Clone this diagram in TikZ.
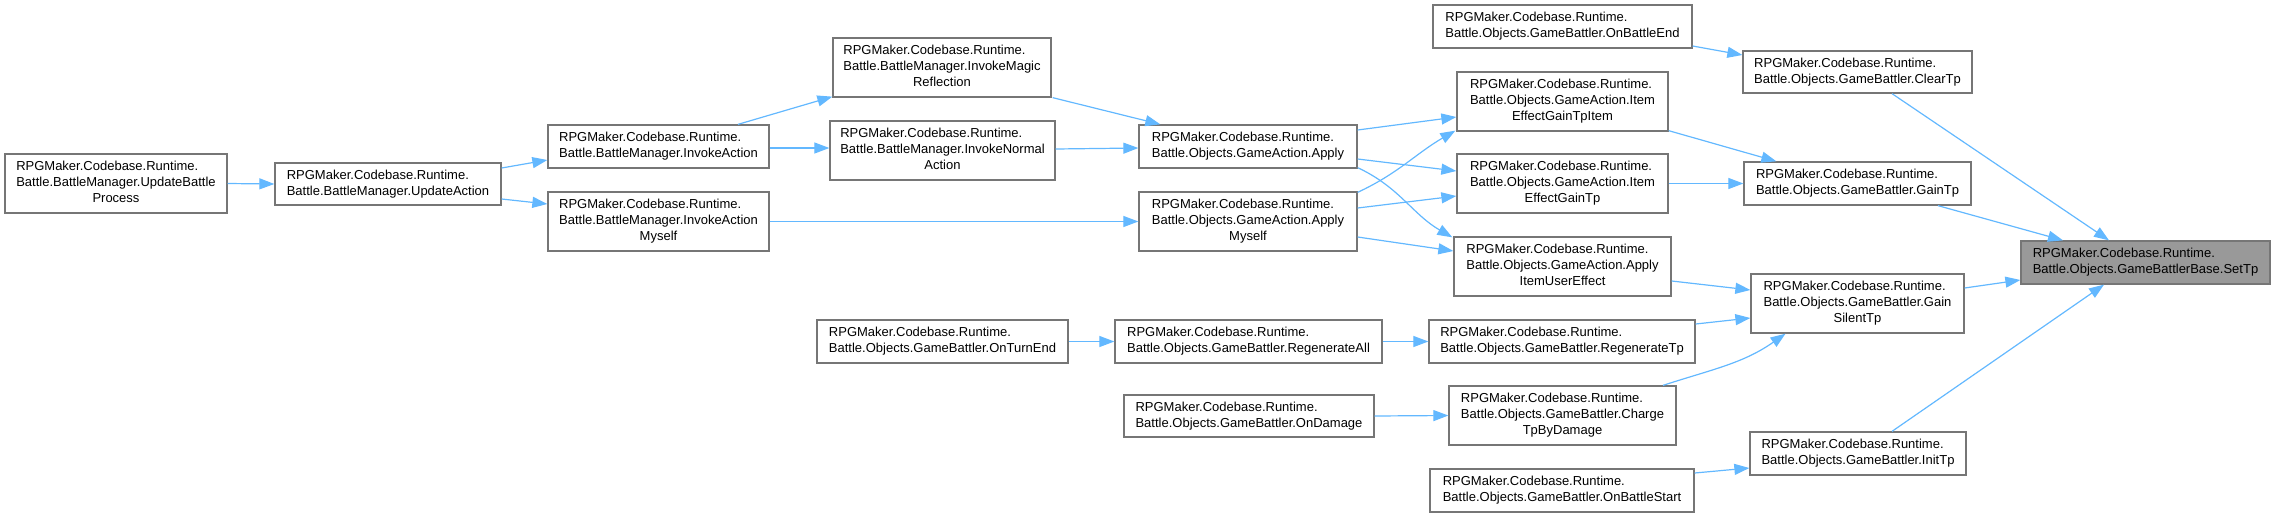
\documentclass[tikz,border=0pt]{standalone}
\usepackage{fontspec}
\setmainfont{Liberation Sans}
\usetikzlibrary{arrows.meta}
\definecolor{edgeblue}{HTML}{63B8FF}
\definecolor{boxgray}{HTML}{767676}
\definecolor{rootgray}{HTML}{999999}
\newcommand{\twol}[2]{\begin{tabular}{@{}l@{}}#1\\#2\end{tabular}}
\newcommand{\threel}[3]{\begin{tabular}{@{}l@{}}#1\\#2\\\multicolumn{1}{@{}c@{}}{#3}\end{tabular}}
\tikzset{
  fn/.style={draw=boxgray, line width=1.3pt, fill=white, rectangle, inner sep=0pt,
    font=\fontsize{13}{16}\selectfont, text=black, anchor=center},
  root/.style={fn, fill=rootgray},
  call/.style={draw=edgeblue, line width=1.2pt, -{Triangle[length=15pt,width=11pt,fill=edgeblue]}}
}
\begin{document}
\begin{tikzpicture}[x=1pt,y=-1pt]
\useasboundingbox (0,0) rectangle (2275,517);
% column 0
\node[fn, minimum width=222pt, minimum height=59pt] (ubp) at (116,183.5)
  {\threel{RPGMaker.Codebase.Runtime.}{Battle.BattleManager.UpdateBattle}{Process}};
% column 1
\node[fn, minimum width=226pt, minimum height=42pt] (ua) at (388,184)
  {\twol{RPGMaker.Codebase.Runtime.}{Battle.BattleManager.UpdateAction}};
% column 2
\node[fn, minimum width=221pt, minimum height=43pt] (ia) at (658.5,146.5)
  {\twol{RPGMaker.Codebase.Runtime.}{Battle.BattleManager.InvokeAction}};
\node[fn, minimum width=221pt, minimum height=59pt] (iam) at (658.5,221.5)
  {\threel{RPGMaker.Codebase.Runtime.}{Battle.BattleManager.InvokeAction}{Myself}};
% column 3
\node[fn, minimum width=218pt, minimum height=59pt] (imr) at (942,67.5)
  {\threel{RPGMaker.Codebase.Runtime.}{Battle.BattleManager.InvokeMagic}{Reflection}};
\node[fn, minimum width=225pt, minimum height=59pt] (ina) at (942.5,150.5)
  {\threel{RPGMaker.Codebase.Runtime.}{Battle.BattleManager.InvokeNormal}{Action}};
\node[fn, minimum width=251pt, minimum height=43pt] (ote) at (942.5,341.5)
  {\twol{RPGMaker.Codebase.Runtime.}{Battle.Objects.GameBattler.OnTurnEnd}};
% column 4
\node[fn, minimum width=218pt, minimum height=43pt] (ap) at (1248,146.5)
  {\twol{RPGMaker.Codebase.Runtime.}{Battle.Objects.GameAction.Apply}};
\node[fn, minimum width=218pt, minimum height=59pt] (apm) at (1248,221.5)
  {\threel{RPGMaker.Codebase.Runtime.}{Battle.Objects.GameAction.Apply}{Myself}};
\node[fn, minimum width=267pt, minimum height=43pt] (ra) at (1248.5,341.5)
  {\twol{RPGMaker.Codebase.Runtime.}{Battle.Objects.GameBattler.RegenerateAll}};
\node[fn, minimum width=250pt, minimum height=42pt] (od) at (1249,416)
  {\twol{RPGMaker.Codebase.Runtime.}{Battle.Objects.GameBattler.OnDamage}};
% column 5
\node[fn, minimum width=259pt, minimum height=43pt] (obe) at (1562.5,26.5)
  {\twol{RPGMaker.Codebase.Runtime.}{Battle.Objects.GameBattler.OnBattleEnd}};
\node[fn, minimum width=211pt, minimum height=59pt] (egti) at (1562.5,101.5)
  {\threel{RPGMaker.Codebase.Runtime.}{Battle.Objects.GameAction.Item}{EffectGainTpItem}};
\node[fn, minimum width=211pt, minimum height=59pt] (egt) at (1562.5,183.5)
  {\threel{RPGMaker.Codebase.Runtime.}{Battle.Objects.GameAction.Item}{EffectGainTp}};
\node[fn, minimum width=217pt, minimum height=59pt] (aiue) at (1562.5,266.5)
  {\threel{RPGMaker.Codebase.Runtime.}{Battle.Objects.GameAction.Apply}{ItemUserEffect}};
\node[fn, minimum width=266pt, minimum height=43pt] (rtp) at (1562,341.5)
  {\twol{RPGMaker.Codebase.Runtime.}{Battle.Objects.GameBattler.RegenerateTp}};
\node[fn, minimum width=227pt, minimum height=59pt] (ctd) at (1562.5,415.5)
  {\threel{RPGMaker.Codebase.Runtime.}{Battle.Objects.GameBattler.Charge}{TpByDamage}};
\node[fn, minimum width=264pt, minimum height=43pt] (obs) at (1562,490.5)
  {\twol{RPGMaker.Codebase.Runtime.}{Battle.Objects.GameBattler.OnBattleStart}};
% column 6
\node[fn, minimum width=229pt, minimum height=42pt] (ctp) at (1857.5,72)
  {\twol{RPGMaker.Codebase.Runtime.}{Battle.Objects.GameBattler.ClearTp}};
\node[fn, minimum width=227pt, minimum height=43pt] (gtp) at (1857.5,183.5)
  {\twol{RPGMaker.Codebase.Runtime.}{Battle.Objects.GameBattler.GainTp}};
\node[fn, minimum width=213pt, minimum height=59pt] (gstp) at (1857.5,303.5)
  {\threel{RPGMaker.Codebase.Runtime.}{Battle.Objects.GameBattler.Gain}{SilentTp}};
\node[fn, minimum width=216pt, minimum height=43pt] (itp) at (1858,453.5)
  {\twol{RPGMaker.Codebase.Runtime.}{Battle.Objects.GameBattler.InitTp}};
% root
\node[root, minimum width=249pt, minimum height=43pt] (stp) at (2145.5,262.5)
  {\twol{RPGMaker.Codebase.Runtime.}{Battle.Objects.GameBattlerBase.SetTp}};

% edges
\draw[call] (ubp.east) -- (ua.west);
\draw[call] ([yshift=16pt]ua.east) -- ([yshift=-13.5pt]ia.west);
\draw[call] ([yshift=-15pt]ua.east) -- ([yshift=17.5pt]iam.west);
\draw[call] ([xshift=79.5pt]ia.north) -- ([yshift=1pt]imr.south west);
\draw[call] ([yshift=-1.5pt]ia.east) -- ([yshift=2.5pt]ina.west);
\draw[call] (iam.east) -- (apm.west);
\draw[call] ([xshift=1pt]imr.south east) -- ([xshift=22pt]ap.north west);
\draw[call] ([yshift=1.5pt]ina.east) -- ([yshift=-1.5pt]ap.west);
\draw[call] ([yshift=16.5pt]ap.east) -- ([yshift=-15.5pt]egti.west);
\draw[call] ([yshift=-12.5pt]ap.east) -- ([yshift=12.5pt]egt.west);
\draw[call] ([yshift=1pt]ap.south east) to[out=-25,in=150] ([xshift=-1pt,yshift=-1pt]aiue.north west);
\draw[call] ([yshift=-1pt]apm.north east) to[out=25,in=-150] ([xshift=-1pt,yshift=1pt]egti.south west);
\draw[call] ([yshift=13.5pt]apm.east) -- ([yshift=-12.5pt]egt.west);
\draw[call] ([yshift=-15.5pt]apm.east) -- ([yshift=15.5pt]aiue.west);
\draw[call] ([yshift=-19.5pt]obe.east) -- ([yshift=17pt]ctp.west);
\draw[call] ([yshift=1pt]egti.south east) -- ([xshift=33pt]gtp.north west);
\draw[call] (egt.east) -- (gtp.west);
\draw[call] ([yshift=-14.5pt]aiue.east) -- ([yshift=13.5pt]gstp.west);
\draw[call] ([yshift=17.5pt]rtp.east) -- ([yshift=-14.5pt]gstp.west);
\draw[call] ([xshift=100.5pt]ctd.north) to[out=18,in=-145] ([xshift=-72pt]gstp.south);
\draw[call] (ote.east) -- (ra.west);
\draw[call] (ra.east) -- (rtp.west);
\draw[call] (od.east) -- (ctd.west);
\draw[call] ([yshift=17.5pt]obs.east) -- ([yshift=-14.5pt]itp.west);
\draw[call] ([xshift=34.5pt]ctp.south) -- ([xshift=-36.5pt]stp.north);
\draw[call] ([xshift=80.5pt]gtp.south) -- ([xshift=-82.5pt]stp.north);
\draw[call] ([yshift=15.5pt]gstp.east) -- ([yshift=-17.5pt]stp.west);
\draw[call] ([xshift=34pt]itp.north) -- ([xshift=-41.5pt]stp.south);
\end{tikzpicture}
\end{document}
